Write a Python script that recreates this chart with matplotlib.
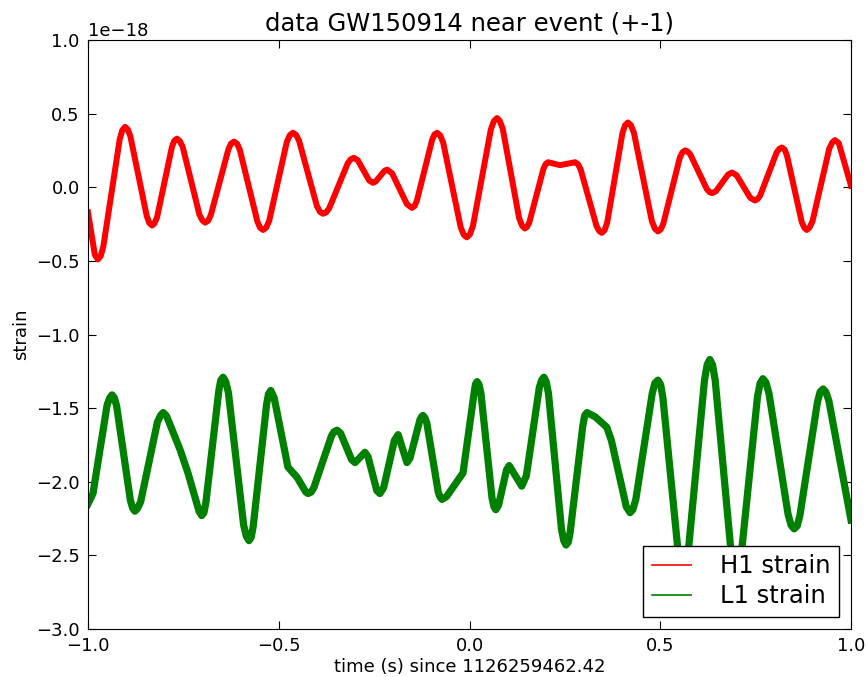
import matplotlib
matplotlib.use('Agg')
from matplotlib import pyplot as plt
from matplotlib.lines import Line2D
import numpy as np

# strain around the event, in units of 1e-18, time in s relative to the event
h1_time = [-1.000, -0.982, -0.974, -0.967, -0.960, -0.917, -0.910, -0.903, -0.896,
           -0.889, -0.846, -0.839, -0.832, -0.826, -0.819, -0.780, -0.774, -0.767,
           -0.760, -0.752, -0.708, -0.700, -0.693, -0.685, -0.678, -0.632, -0.625,
           -0.617, -0.609, -0.602, -0.556, -0.549, -0.541, -0.533, -0.525, -0.479,
           -0.471, -0.463, -0.455, -0.447, -0.400, -0.392, -0.384, -0.376, -0.368,
           -0.319, -0.311, -0.303, -0.293, -0.263, -0.253, -0.246, -0.223, -0.216,
           -0.203, -0.164, -0.151, -0.144, -0.138, -0.098, -0.092, -0.085, -0.077,
           -0.069, -0.023, -0.015, -0.007, 0.001, 0.009, 0.056, 0.064, 0.072, 0.079,
           0.087, 0.130, 0.138, 0.145, 0.151, 0.157, 0.194, 0.200, 0.206, 0.222,
           0.237, 0.257, 0.277, 0.284, 0.291, 0.333, 0.340, 0.347, 0.354, 0.361,
           0.401, 0.408, 0.415, 0.423, 0.431, 0.478, 0.486, 0.494, 0.501, 0.508,
           0.551, 0.558, 0.565, 0.572, 0.579, 0.622, 0.629, 0.636, 0.646, 0.678,
           0.688, 0.700, 0.736, 0.748, 0.755, 0.762, 0.805, 0.812, 0.819, 0.826,
           0.832, 0.871, 0.878, 0.884, 0.891, 0.899, 0.943, 0.951, 0.958, 0.968,
           1.000]
h1_strain = [-0.17, -0.46, -0.49, -0.468, -0.405, 0.325, 0.388, 0.41, 0.394,
             0.346, -0.196, -0.244, -0.26, -0.246, -0.204, 0.274, 0.316, 0.33,
             0.316, 0.276, -0.186, -0.226, -0.24, -0.227, -0.188, 0.258, 0.297,
             0.31, 0.295, 0.253, -0.233, -0.275, -0.29, -0.274, -0.227, 0.307,
             0.354, 0.37, 0.357, 0.318, -0.128, -0.167, -0.18, -0.171, -0.144,
             0.164, 0.191, 0.20, 0.184, 0.046, 0.03, 0.039, 0.111, 0.12,
             0.095, -0.115, -0.14, -0.128, -0.092, 0.322, 0.358, 0.37, 0.353,
             0.303, -0.273, -0.323, -0.34, -0.320, -0.263, 0.393, 0.450, 0.47, 0.452,
             0.399, -0.209, -0.262, -0.28, -0.269, -0.237, 0.127, 0.159, 0.17, 0.16,
             0.15, 0.16, 0.17, 0.158, 0.124, -0.264, -0.298, -0.31, -0.292, -0.239,
             0.369, 0.422, 0.44, 0.422, 0.37, -0.23, -0.282, -0.30, -0.287, -0.248,
             0.198, 0.237, 0.25, 0.243, 0.222, -0.012, -0.033, -0.04, -0.027, 0.087,
             0.10, 0.082, -0.072, -0.09, -0.081, -0.056, 0.236, 0.261, 0.27, 0.256,
             0.217, -0.237, -0.276, -0.29, -0.275, -0.232, 0.262, 0.305, 0.32, 0.30,
             0.01]

l1_time = [-1.000, -0.987, -0.950, -0.943, -0.937, -0.931, -0.925, -0.889, -0.883,
           -0.877, -0.870, -0.862, -0.818, -0.810, -0.803, -0.794, -0.759, -0.738,
           -0.709, -0.702, -0.696, -0.691, -0.657, -0.652, -0.646, -0.639, -0.632,
           -0.592, -0.585, -0.578, -0.572, -0.567, -0.532, -0.527, -0.521, -0.512,
           -0.476, -0.452, -0.429, -0.423, -0.415, -0.408, -0.362, -0.355, -0.347,
           -0.338, -0.309, -0.300, -0.274, -0.266, -0.243, -0.235, -0.225, -0.197,
           -0.187, -0.164, -0.156, -0.130, -0.126, -0.122, -0.117, -0.112, -0.082,
           -0.077, -0.072, -0.060, -0.033, -0.017, 0.013, 0.016, 0.020, 0.025,
           0.030, 0.059, 0.064, 0.069, 0.076, 0.097, 0.104, 0.137, 0.149, 0.183,
           0.189, 0.195, 0.201, 0.207, 0.241, 0.247, 0.253, 0.259, 0.264, 0.297,
           0.302, 0.308, 0.330, 0.360, 0.372, 0.411, 0.421, 0.428, 0.436, 0.479,
           0.486, 0.494, 0.501, 0.507, 0.547, 0.553, 0.560, 0.567, 0.574, 0.616,
           0.623, 0.630, 0.637, 0.644, 0.685, 0.692, 0.699, 0.706, 0.713, 0.755,
           0.762, 0.769, 0.777, 0.785, 0.835, 0.843, 0.851, 0.859, 0.866, 0.912,
           0.919, 0.927, 0.934, 0.942, 1.000]
l1_strain = [-2.15, -2.08, -1.48, -1.43, -1.41, -1.43, -1.485, -2.125, -2.18,
             -2.20, -2.18, -2.136, -1.594, -1.55, -1.53, -1.554, -1.78, -1.94,
             -2.20, -2.23, -2.21, -2.141, -1.379, -1.31, -1.29, -1.32, -1.395,
             -2.295, -2.37, -2.40, -2.375, -2.303, -1.477, -1.405, -1.38, -1.43,
             -1.90, -1.97, -2.07, -2.08, -2.07, -2.04, -1.69, -1.66, -1.65,
             -1.67, -1.85, -1.87, -1.80, -1.83, -2.06, -2.08, -2.04, -1.72,
             -1.68, -1.87, -1.84, -1.58, -1.56, -1.55, -1.565, -1.60, -2.07,
             -2.105, -2.12, -2.10, -2.00, -1.94, -1.38, -1.335, -1.32, -1.34,
             -1.40, -2.11, -2.17, -2.19, -2.16, -1.92, -1.89, -2.03, -1.96, -1.36,
             -1.31, -1.29, -1.32, -1.40, -2.32, -2.40, -2.43, -2.41, -2.34, -1.62,
             -1.55, -1.53, -1.56, -1.63, -1.72, -2.17, -2.21, -2.19, -2.12, -1.40,
             -1.33, -1.31, -1.34, -1.43, -2.48, -2.57, -2.60, -2.565, -2.46, -1.31,
             -1.205, -1.17, -1.205, -1.31, -2.46, -2.565, -2.60, -2.57, -2.48, -1.42,
             -1.33, -1.30, -1.325, -1.40, -2.22, -2.295, -2.32, -2.30, -2.23, -1.46,
             -1.39, -1.37, -1.39, -1.45, -2.26]

scale = 1e-18

fig = plt.figure(figsize=(8.68, 6.77), dpi=100)
ax = fig.add_axes([0.1014, 0.0709, 0.879, 0.870])
ax.plot(h1_time, np.array(h1_strain) * scale, color='r', linewidth=4.3,
        solid_joinstyle='round')
ax.plot(l1_time, np.array(l1_strain) * scale, color='g', linewidth=5.2,
        solid_joinstyle='round')
ax.set_xlim(-1, 1)
ax.set_ylim(-3e-18, 1e-18)
ax.set_xticks([-1.0, -0.5, 0.0, 0.5, 1.0])
ax.set_yticks(np.arange(-3.0, 1.01, 0.5) * scale)
ax.tick_params(direction='in', top=True, right=True, length=6, labelsize=13,
               pad=6)
ax.yaxis.get_offset_text().set_fontsize(13)
ax.set_xlabel('time (s) since 1126259462.42', fontsize=13, labelpad=2)
ax.set_ylabel('strain', fontsize=13, labelpad=4)
ax.set_title('data GW150914 near event (+-1)', fontsize=17.5, pad=7)

handles = [Line2D([], [], color='r', linewidth=1.2),
           Line2D([], [], color='g', linewidth=1.2)]
leg = ax.legend(handles, ['H1 strain', 'L1 strain'], loc='lower right',
                fontsize=17.5, fancybox=False, framealpha=1, borderaxespad=0.5,
                handlelength=1.6, handletextpad=1.2, borderpad=0.35,
                labelspacing=0.25)
leg.get_frame().set_edgecolor('black')
leg.get_frame().set_linewidth(1.0)

fig.savefig('out.png', dpi=100)
